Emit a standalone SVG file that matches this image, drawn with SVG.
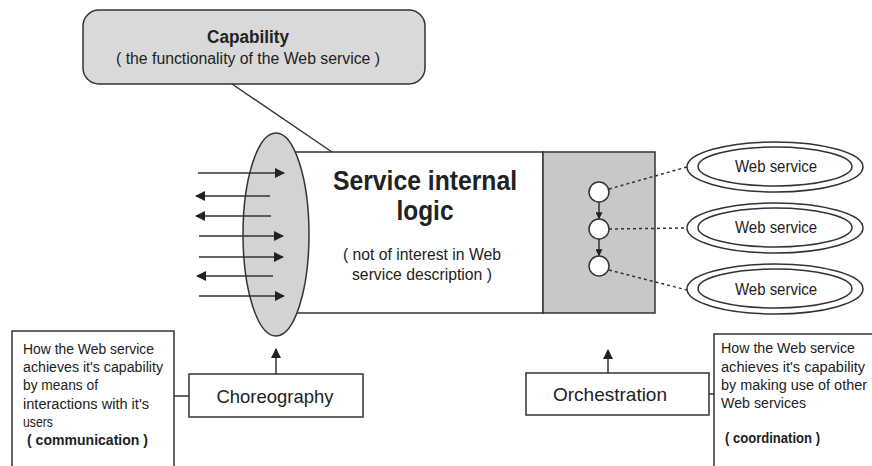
<svg xmlns="http://www.w3.org/2000/svg" width="872" height="466" viewBox="0 0 872 466">
  <style>
    .ln { stroke: #333; stroke-width: 1.5; fill: none; }
    .box { stroke: #333; stroke-width: 1.5; fill: #fff; }
    .dash { stroke: #333; stroke-width: 1.5; stroke-dasharray: 3 3; fill: none; }
    text { font-family: "Liberation Sans", Arial, sans-serif; fill: #222; }
    .note { font-size: 15.5px; }
    .note-r { font-size: 14px; }
    .ws { font-size: 16px; text-anchor: middle; }
  </style>
  <defs>
    <marker id="tri" viewBox="0 0 10 10" refX="9" refY="5" markerWidth="12" markerHeight="10" markerUnits="userSpaceOnUse" orient="auto">
      <path d="M0,0 L10,5 L0,10 z" fill="#222"/>
    </marker>
    <marker id="tiny" viewBox="0 0 10 10" refX="9" refY="5" markerWidth="7" markerHeight="7" markerUnits="userSpaceOnUse" orient="auto">
      <path d="M0,0 L10,5 L0,10 z" fill="#222"/>
    </marker>
  </defs>

  <rect width="872" height="466" fill="#fff"/>

  <!-- capability callout -->
  <g id="capability">
    <line class="ln" x1="232" y1="84" x2="332" y2="152"/>
    <rect x="83" y="10" width="342" height="74" rx="16" ry="16" fill="#d9d9d9" stroke="#333" stroke-width="1.5"/>
    <text x="248" y="43" font-size="17.5" font-weight="bold" text-anchor="middle" textLength="82" lengthAdjust="spacingAndGlyphs">Capability</text>
    <text x="248" y="64" font-size="16" text-anchor="middle" textLength="264" lengthAdjust="spacingAndGlyphs">( the functionality of the Web service )</text>
  </g>

  <!-- service body: internal logic and orchestration area -->
  <g id="service-logic">
    <rect class="box" x="276" y="152" width="267" height="161"/>
    <text x="425" y="190" font-size="27" font-weight="bold" text-anchor="middle" textLength="184" lengthAdjust="spacingAndGlyphs">Service internal</text>
    <text x="425" y="220" font-size="27" font-weight="bold" text-anchor="middle" textLength="57" lengthAdjust="spacingAndGlyphs">logic</text>
    <text x="422" y="260" font-size="16.5" text-anchor="middle" textLength="158" lengthAdjust="spacingAndGlyphs">( not of interest in Web</text>
    <text x="422" y="280" font-size="16.5" text-anchor="middle" textLength="140" lengthAdjust="spacingAndGlyphs">service description )</text>
  </g>
  <g id="orchestration-area">
    <rect x="543" y="152" width="112" height="161" fill="#c8c8c8" stroke="#333" stroke-width="1.5"/>
  </g>

  <!-- interface ellipse -->
  <g id="interface">
    <ellipse cx="276" cy="234.5" rx="33" ry="101.5" fill="#d3d3d3" stroke="#333" stroke-width="1.5"/>
  </g>

  <!-- message arrows -->
  <g id="messages" class="ln">
    <line x1="198" y1="173" x2="284" y2="173" marker-end="url(#tri)"/>
    <line x1="270" y1="196" x2="196" y2="196" marker-end="url(#tri)"/>
    <line x1="271" y1="216" x2="196" y2="216" marker-end="url(#tri)"/>
    <line x1="199" y1="236" x2="283" y2="236" marker-end="url(#tri)"/>
    <line x1="199" y1="257" x2="283" y2="257" marker-end="url(#tri)"/>
    <line x1="273" y1="276" x2="197" y2="276" marker-end="url(#tri)"/>
    <line x1="199" y1="296" x2="284" y2="296" marker-end="url(#tri)"/>
  </g>

  <!-- orchestration steps -->
  <g id="step-1"><circle cx="599" cy="192" r="10" class="box"/></g>
  <g id="step-2"><circle cx="599" cy="229" r="10" class="box"/></g>
  <g id="step-3"><circle cx="599" cy="266" r="10" class="box"/></g>

  <!-- external web services -->
  <g id="web-service-1">
    <ellipse cx="775" cy="167" rx="88" ry="25" class="box"/>
    <ellipse cx="775" cy="166.5" rx="77" ry="19.5" class="box"/>
    <text class="ws" x="776" y="172" textLength="82" lengthAdjust="spacingAndGlyphs">Web service</text>
  </g>
  <g id="web-service-2">
    <ellipse cx="775" cy="228" rx="88" ry="25" class="box"/>
    <ellipse cx="775" cy="227.5" rx="77" ry="19.5" class="box"/>
    <text class="ws" x="776" y="233" textLength="82" lengthAdjust="spacingAndGlyphs">Web service</text>
  </g>
  <g id="web-service-3">
    <ellipse cx="775" cy="289" rx="88" ry="25" class="box"/>
    <ellipse cx="775" cy="288.5" rx="77" ry="19.5" class="box"/>
    <text class="ws" x="776" y="295" textLength="82" lengthAdjust="spacingAndGlyphs">Web service</text>
  </g>

  <!-- choreography -->
  <g id="choreography">
    <rect class="box" x="189" y="374" width="174" height="43"/>
    <text x="275" y="403" font-size="19" text-anchor="middle" textLength="117" lengthAdjust="spacingAndGlyphs">Choreography</text>
  </g>
  <g id="communication-note">
    <path class="ln" d="M12,470 V331 H174 V470"/>
    <text class="note" x="23" y="354" textLength="131" lengthAdjust="spacingAndGlyphs">How the Web service</text>
    <text class="note" x="23" y="372" textLength="140" lengthAdjust="spacingAndGlyphs">achieves it's capability</text>
    <text class="note" x="23" y="390" textLength="75" lengthAdjust="spacingAndGlyphs">by means of</text>
    <text class="note" x="23" y="409" textLength="126" lengthAdjust="spacingAndGlyphs">interactions with it's</text>
    <text class="note" x="23" y="427" textLength="30" lengthAdjust="spacingAndGlyphs">users</text>
    <text class="note" x="27" y="445" font-weight="bold" textLength="121" lengthAdjust="spacingAndGlyphs">( communication )</text>
  </g>

  <!-- orchestration -->
  <g id="orchestration">
    <rect class="box" x="526" y="373" width="183" height="42"/>
    <text x="610" y="401" font-size="19" text-anchor="middle" textLength="114" lengthAdjust="spacingAndGlyphs">Orchestration</text>
  </g>
  <g id="coordination-note">
    <path class="ln" d="M714,470 V334 H880"/>
    <text class="note-r" x="721" y="353" textLength="134" lengthAdjust="spacingAndGlyphs">How the Web service</text>
    <text class="note-r" x="721" y="372" textLength="144" lengthAdjust="spacingAndGlyphs">achieves it's capability</text>
    <text class="note-r" x="721" y="390" textLength="146" lengthAdjust="spacingAndGlyphs">by making use of other</text>
    <text class="note-r" x="721" y="408" textLength="85" lengthAdjust="spacingAndGlyphs">Web services</text>
    <text class="note-r" x="725" y="443" font-weight="bold" textLength="95" lengthAdjust="spacingAndGlyphs">( coordination )</text>
  </g>

  <!-- connectors -->
  <g id="connectors">
    <line class="ln" x1="599" y1="202" x2="599" y2="218.5" marker-end="url(#tiny)"/>
    <line class="ln" x1="599" y1="239" x2="599" y2="255.5" marker-end="url(#tiny)"/>
    <line class="dash" x1="609" y1="189" x2="687" y2="167"/>
    <line class="dash" x1="609" y1="229" x2="687" y2="228"/>
    <line class="dash" x1="609" y1="270" x2="687" y2="290"/>
    <line class="ln" x1="276" y1="374" x2="276" y2="349" marker-end="url(#tri)"/>
    <line class="ln" x1="608" y1="373" x2="608" y2="350" marker-end="url(#tri)"/>
    <line class="ln" x1="174" y1="396" x2="189" y2="396"/>
    <line class="ln" x1="709" y1="394" x2="714" y2="394"/>
  </g>
</svg>
